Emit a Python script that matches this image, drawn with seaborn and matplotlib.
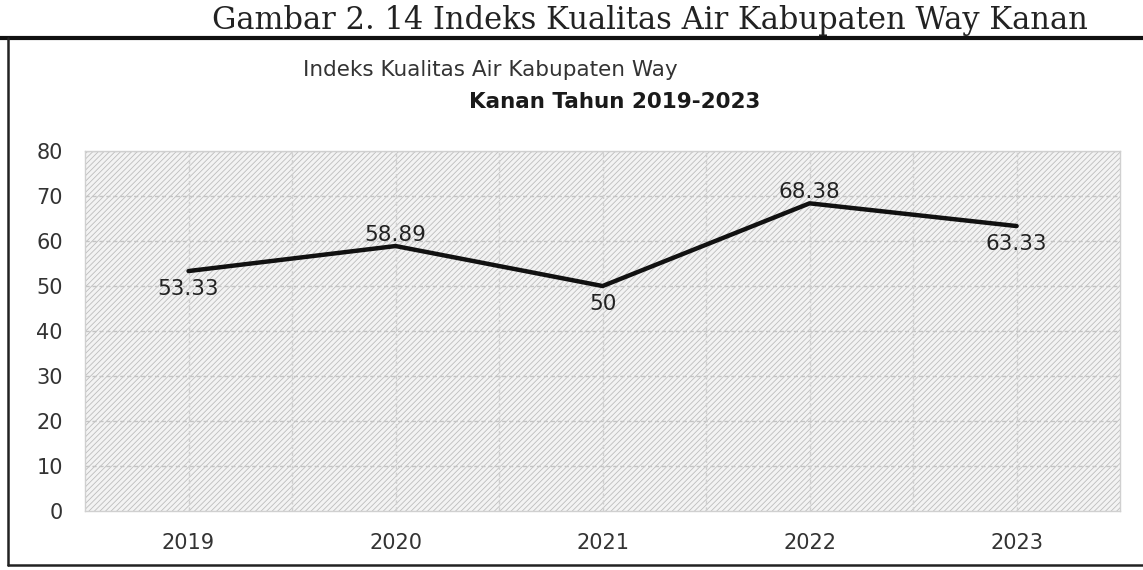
import numpy as np
import pandas as pd
import seaborn as sns
import matplotlib.pyplot as plt
from matplotlib.patches import Rectangle
from matplotlib.lines import Line2D

YEARS = ['2019', '2020', '2021', '2022', '2023']
IKA = [53.33, 58.89, 50, 68.38, 63.33]
LABELS = ['53.33', '58.89', '50', '68.38', '63.33']
LABEL_ABOVE = [False, True, False, True, False]
Y_TICKS = [0, 10, 20, 30, 40, 50, 60, 70, 80]

data = pd.DataFrame({'pos': np.arange(len(YEARS)), 'ika': IKA})

sns.set_style('white')
plt.rcParams['font.family'] = ['DejaVu Sans']
plt.rcParams['hatch.linewidth'] = 0.6
plt.rcParams['hatch.color'] = '#b8b8b8'

fig = plt.figure(figsize=(11.43, 5.70), dpi=100)
ax = fig.add_axes([0.0744, 0.1035, 0.9056, 0.6315])

# hatched plot background like the scanned page
ax.add_patch(Rectangle((0, 0), 1, 1, transform=ax.transAxes, facecolor='#f3f3f3',
                       edgecolor='#bdbdbd', hatch='//////', linewidth=0, zorder=0))

sns.lineplot(data=data, x='pos', y='ika', color='#111111', linewidth=3.2, ax=ax, zorder=3)

for i, (v, lab, above) in enumerate(zip(IKA, LABELS, LABEL_ABOVE)):
    off = 8 if above else -13
    ax.annotate(lab, (i, v), xytext=(0, off), textcoords='offset points',
                ha='center', va='center', fontsize=15.5, color='#222222', zorder=4)

ax.set_xlim(-0.5, len(YEARS) - 0.5)
ax.set_ylim(0, 80)
ax.set_xticks(np.arange(len(YEARS)))
ax.set_xticklabels(YEARS)
ax.set_yticks(Y_TICKS)
ax.tick_params(axis='both', length=0, labelsize=15, colors='#333333')
ax.tick_params(axis='x', pad=16)
ax.tick_params(axis='y', pad=16)
ax.set_xlabel('')
ax.set_ylabel('')

for y in Y_TICKS[1:]:
    ax.axhline(y, color='#c4c4c4', linewidth=1.0, linestyle=(0, (3, 2)), zorder=1)
for x in np.arange(-0.5, len(YEARS), 0.5)[1:-1]:
    ax.axvline(x, color='#cfcfcf', linewidth=1.0, linestyle=(0, (3, 2)), zorder=1)
for s in ax.spines.values():
    s.set_color('#d0d0d0')
    s.set_linewidth(1.0)

fig.text(303 / 1143, 1 - 70 / 570, 'Indeks Kualitas Air Kabupaten Way', fontsize=15.5,
         color='#333333', ha='left', va='center')
fig.text(760 / 1143, 1 - 102 / 570, 'Kanan Tahun 2019-2023', fontsize=15.5, color='#1a1a1a',
         fontweight='bold', ha='right', va='center')

# caption of the page above the box
fig.text(650 / 1143, 1 - 29 / 570, 'Gambar 2. 14 Indeks Kualitas Air Kabupaten Way Kanan',
         fontsize=22, family='DejaVu Serif', color='#222222', ha='center', va='baseline')

# box frame around the chart
fig.add_artist(Line2D([0, 1], [1 - 38 / 570, 1 - 38 / 570], color='#111111', linewidth=3))
fig.add_artist(Line2D([8 / 1143, 8 / 1143], [1 - 38 / 570, 5 / 570], color='#222222', linewidth=1.8))
fig.add_artist(Line2D([8 / 1143, 1], [5 / 570, 5 / 570], color='#222222', linewidth=1.8))

fig.savefig('out.png', dpi=100)
